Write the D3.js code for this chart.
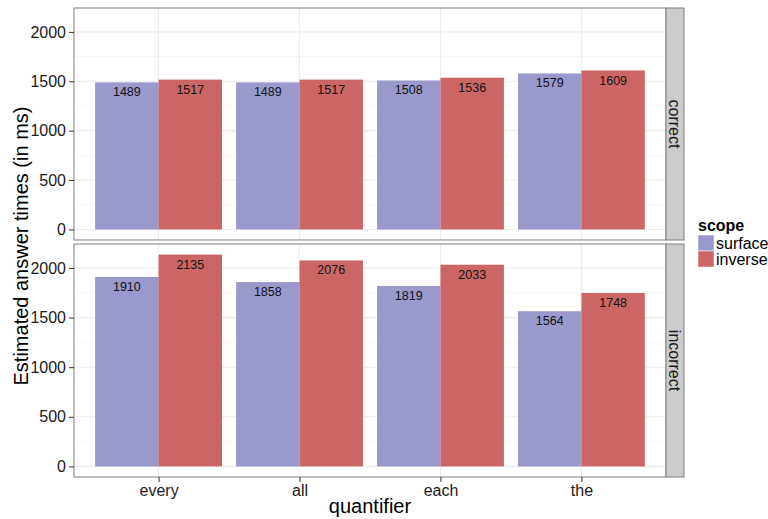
<!DOCTYPE html>
<html><head><meta charset="utf-8">
<script src="https://cdn.jsdelivr.net/npm/d3@7"></script>
<style>body{margin:0;background:#fff}text{font-family:"Liberation Sans",Arial,sans-serif}</style>
</head><body>
<svg id="c" width="768" height="519"></svg>
<script>
const quantifiers = ["every","all","each","the"];
const scopes = ["surface","inverse"];
const facets = ["correct","incorrect"];
const correctSurface = [1489,1489,1508,1579];
const correctInverse = [1517,1517,1536,1609];
const incorrectSurface = [1910,1858,1819,1564];
const incorrectInverse = [2135,2076,2033,1748];
const yTicks = [0,500,1000,1500,2000];
const minorTicks = [250,750,1250,1750];
const colors = {surface:"#9999CC", inverse:"#CC6666"};

const data = {
  correct: {surface: correctSurface, inverse: correctInverse},
  incorrect: {surface: incorrectSurface, inverse: incorrectInverse}
};

const svg = d3.select("#c");
const left = 74, right = 666, stripW = 18;
const panels = [{f:facets[0], top:8, bottom:240},{f:facets[1], top:244, bottom:477}];
const maxV = d3.max([...correctInverse, ...incorrectInverse, ...correctSurface, ...incorrectSurface]);
const pad = maxV*0.05;

// emulate ggplot discrete expand 0.6
const step = (right-left)/4.2;
const xc = d3.scalePoint().domain(quantifiers).range([left + step*0.6, right - step*0.6]);
const barW = step*0.9/2;

panels.forEach(p => {
  const y = d3.scaleLinear().domain([-pad, maxV+pad]).range([p.bottom, p.top]);
  const g = svg.append("g");
  g.selectAll(".mn").data(minorTicks).join("line")
    .attr("x1", left).attr("x2", right).attr("y1", d=>y(d)).attr("y2", d=>y(d))
    .attr("stroke","#f2f2f2").attr("stroke-width",0.6);
  g.selectAll(".mj").data(yTicks).join("line")
    .attr("x1", left).attr("x2", right).attr("y1", d=>y(d)).attr("y2", d=>y(d))
    .attr("stroke","#ebebeb").attr("stroke-width",1.1);
  g.selectAll(".vx").data(quantifiers).join("line")
    .attr("x1", d=>xc(d)).attr("x2", d=>xc(d)).attr("y1", p.top).attr("y2", p.bottom)
    .attr("stroke","#ebebeb").attr("stroke-width",1.1);
  scopes.forEach((s, si) => {
    const vals = data[p.f][s];
    g.selectAll(".b"+s).data(quantifiers).join("rect")
      .attr("x", (d)=> xc(d) - barW + si*barW)
      .attr("width", barW)
      .attr("y", (d,i)=> y(vals[i]))
      .attr("height", (d,i)=> y(0)-y(vals[i]))
      .attr("fill", colors[s]);
    g.selectAll(".t"+s).data(quantifiers).join("text")
      .attr("x", d=> xc(d) - barW/2 + si*barW)
      .attr("y", (d,i)=> y(vals[i]) + 14)
      .attr("text-anchor","middle")
      .attr("font-size", 12.5)
      .attr("fill","#111")
      .text((d,i)=> vals[i]);
  });
  g.append("rect").attr("x", left).attr("y", p.top).attr("width", right-left).attr("height", p.bottom-p.top)
    .attr("fill","none").attr("stroke","#7f7f7f").attr("stroke-width",1);
  g.append("rect").attr("x", right).attr("y", p.top).attr("width", stripW).attr("height", p.bottom-p.top)
    .attr("fill","#cccccc").attr("stroke","#7f7f7f").attr("stroke-width",1);
  g.append("text").attr("transform", `translate(${right+stripW/2},${(p.top+p.bottom)/2}) rotate(90)`)
    .attr("text-anchor","middle").attr("dy","0.35em").attr("font-size",16).attr("fill","#1a1a1a").text(p.f);
  const ax = g.append("g").attr("transform", `translate(${left},0)`)
    .call(d3.axisLeft(y).tickValues(yTicks).tickSize(5).tickPadding(3).tickFormat(d3.format("d")));
  ax.select(".domain").remove();
  ax.selectAll("line").attr("stroke","#333");
  ax.selectAll("text").attr("font-size",16).attr("fill","#1a1a1a").attr("font-family","Liberation Sans, Arial, sans-serif");
});

const xa = svg.append("g").attr("transform", `translate(0,477)`)
  .call(d3.axisBottom(xc).tickSize(5).tickPadding(3));
xa.select(".domain").remove();
xa.selectAll("line").attr("stroke","#333");
xa.selectAll("text").attr("font-size",16).attr("fill","#1a1a1a").attr("font-family","Liberation Sans, Arial, sans-serif");

svg.append("text").attr("x", (left+right)/2).attr("y", 513).attr("text-anchor","middle")
  .attr("font-size",20).attr("fill","#000").text("quantifier");
svg.append("text").attr("transform", `translate(27.5,246) rotate(-90)`).attr("text-anchor","middle")
  .attr("font-size",20).attr("fill","#000").text("Estimated answer times (in ms)");

const lg = svg.append("g").attr("transform","translate(698,0)");
lg.append("text").attr("x",0).attr("y",231).attr("font-size",16).attr("font-weight","bold").text("scope");
scopes.forEach((s,i)=>{
  lg.append("rect").attr("x",0).attr("y",235+i*16).attr("width",16).attr("height",16).attr("fill",colors[s])
    .attr("stroke","#fff").attr("stroke-width",0.5);
  lg.append("text").attr("x",18).attr("y",243+i*16).attr("dy","0.35em").attr("font-size",16).text(s);
});
</script>
</body></html>
